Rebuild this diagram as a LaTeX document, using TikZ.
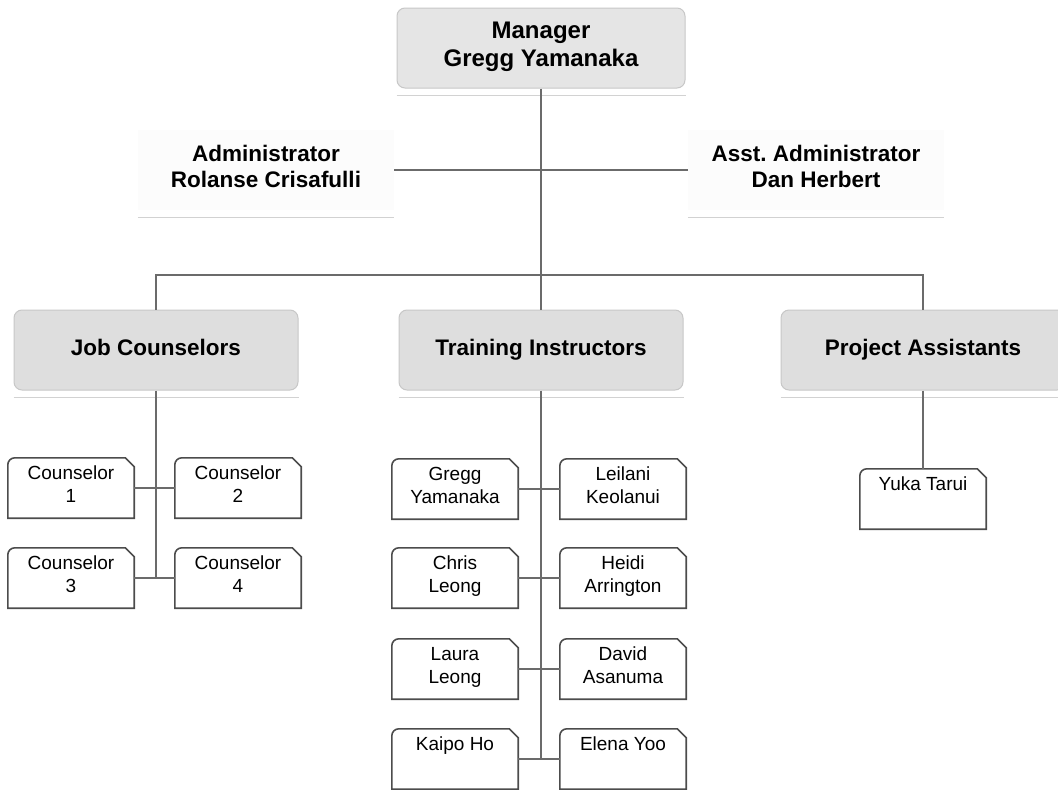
\documentclass[tikz,border=0pt]{standalone}
\usepackage{fontspec}
\setmainfont{Liberation Sans}
\usetikzlibrary{positioning}
\definecolor{headfill}{gray}{0.87}
\definecolor{topfill}{gray}{0.90}
\definecolor{headline}{gray}{0.78}
\definecolor{linkgray}{gray}{0.42}
\definecolor{boxline}{gray}{0.30}
\begin{document}
\begin{tikzpicture}[x=1pt, y=-1pt,
        head/.style={rectangle, rounded corners=8pt, fill=headfill, draw=headline, line width=1pt, align=center, minimum width=284pt, minimum height=80pt, font=\bfseries\fontsize{22.5}{26}\selectfont, execute at begin node=\strut, execute at end node=\strut},
        admin/.style={rectangle, fill=gray!2, align=center, minimum width=256pt, minimum height=80pt, font=\bfseries\fontsize{22.5}{26}\selectfont, execute at begin node=\strut, execute at end node=\strut},
        staff/.style={rectangle, inner sep=0pt, align=center, minimum width=126pt, minimum height=60pt, font=\fontsize{19}{23}\selectfont, execute at begin node=\strut, execute at end node=\strut},
        link/.style={draw=linkgray, line width=1.6pt},
        outline/.style={draw=boxline, line width=1.6pt},
        shadowline/.style={draw=gray!35, line width=1pt}
    ]
        \useasboundingbox (0,0) rectangle (1058,790);

        % Manager and administrators
        \node[head, fill=topfill, minimum width=288pt, font=\bfseries\fontsize{24}{28}\selectfont] (mgr) at (541,48) {Manager\\Gregg Yamanaka};
        \node[admin] (adm) at (266,170) {Administrator\\Rolanse Crisafulli};
        \node[admin] (asst) at (816,170) {Asst.\ Administrator\\Dan Herbert};

        % Departments
        \node[head] (jc) at (156,350) {Job Counselors};
        \node[head] (ti) at (541,350) {Training Instructors};
        \node[head] (pa) at (923,350) {Project Assistants};

        % Job counselors
        \node[staff] (c1) at (71,488) {Counselor\\1};
        \node[staff] (c2) at (238,488) {Counselor\\2};
        \node[staff] (c3) at (71,578) {Counselor\\3};
        \node[staff] (c4) at (238,578) {Counselor\\4};

        % Training instructors
        \node[staff] (t1) at (455,489) {Gregg\\Yamanaka};
        \node[staff] (t2) at (623,489) {Leilani\\Keolanui};
        \node[staff] (t3) at (455,578) {Chris\\Leong};
        \node[staff] (t4) at (623,578) {Heidi\\Arrington};
        \node[staff] (t5) at (455,669) {Laura\\Leong};
        \node[staff] (t6) at (623,669) {David\\Asanuma};
        \node[staff] (t7) at (455,759) {Kaipo Ho\\\mbox{}};
        \node[staff] (t8) at (623,759) {Elena Yoo\\\mbox{}};

        % Project assistants
        \node[staff] (y1) at (923,499) {Yuka Tarui\\\mbox{}};

        % Box outlines
        \foreach \n in {c1,c2,c3,c4,t1,t2,t3,t4,t5,t6,t7,t8,y1}
            \draw[outline] (\n.south west) -- ([yshift=-7pt]\n.north west) arc[start angle=180, end angle=90, radius=7pt] -- ([xshift=-9pt]\n.north east) -- ([yshift=-9pt]\n.north east) -- (\n.south east) -- cycle;

        % Shadow rules
        \foreach \n in {mgr,adm,asst,jc,ti,pa}
            \draw[shadowline] ([yshift=-7pt]\n.south west) -- ([yshift=-7pt]\n.south east);

        % Lines
        \coordinate (branch) at (541,275);
        \coordinate (jcend) at (156,578);
        \coordinate (tiend) at (541,760);
        \draw[link] (mgr.south) -- (ti.north);
        \draw[link] (adm.east) -- (asst.west);
        \draw[link] (jc.north) |- (branch) -| (pa.north);
        \draw[link] (jc.south) -- (jcend);
        \draw[link] (ti.south) -- (tiend);
        \draw[link] (pa.south) -- (y1.north);
        \draw[link] (c1.east) -- (c2.west);
        \draw[link] (c3.east) -- (c4.west);
        \draw[link] (t1.east) -- (t2.west);
        \draw[link] (t3.east) -- (t4.west);
        \draw[link] (t5.east) -- (t6.west);
        \draw[link] (t7.east) -- (t8.west);
    \end{tikzpicture}
\end{document}
